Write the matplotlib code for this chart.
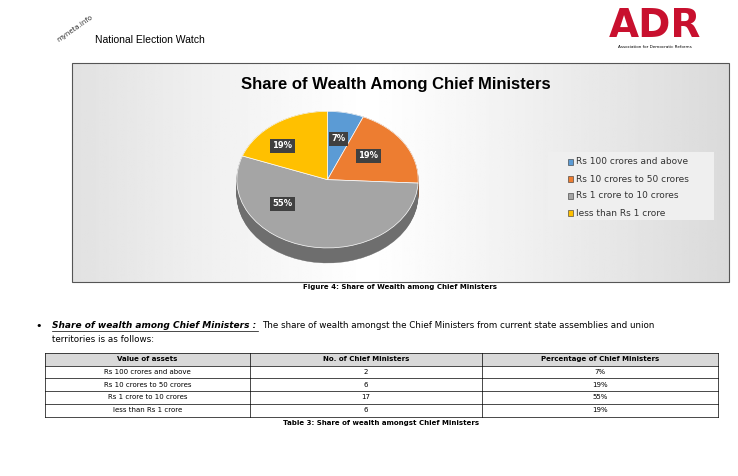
import matplotlib.pyplot as plt
import numpy as np
from matplotlib.patches import Rectangle, Wedge

categories = ["Rs 100 crores and above", "Rs 10 crores to 50 crores",
              "Rs 1 crore to 10 crores", "less than Rs 1 crore"]
counts = [2, 6, 17, 6]
percent_labels = ["7%", "19%", "55%", "19%"]
colors = ["#5B9BD5", "#ED7D31", "#A5A5A5", "#FFC000"]
dark = ["#3F6E99", "#A9561F", "#6E6E6E", "#B38700"]

fig = plt.figure(figsize=(7.38, 4.76), dpi=100)
bg = fig.add_axes([0, 0, 1, 1])
bg.set_xlim(0, 738)
bg.set_ylim(476, 0)
bg.axis("off")

# header logos (text approximations)
bg.text(95, 40, "National Election Watch", fontsize=7.5, family="Liberation Sans", va="center")
bg.text(56, 28, "myneta.info", fontsize=5, rotation=35, color="#333", va="center")
bg.text(655, 26, "ADR", fontsize=28, color="#C8102E", fontweight="bold", ha="center", va="center")
bg.text(655, 47, "Association for Democratic Reforms", fontsize=3, ha="center", va="center")

# chart box with gradient
grad = np.linspace(0, 1, 256)
g = 1 - 0.28 * np.abs(grad - 0.45) ** 1.1
bg.imshow(np.tile(g, (2, 1)), cmap="gray", vmin=0, vmax=1, extent=(72, 729, 282, 63), aspect="auto")
bg.add_patch(Rectangle((72, 63), 657, 219, fill=False, edgecolor="#555", lw=0.8))
bg.text(396, 84, "Share of Wealth Among Chief Ministers", fontsize=12, fontweight="bold",
        ha="center", va="center", family="Liberation Sans")
bg.text(400, 287, "Figure 4: Share of Wealth among Chief Ministers", fontsize=5, fontweight="bold",
        ha="center", va="center")

# pseudo-3D pie
pax = fig.add_axes([235 / 738, 1 - 265 / 476, 185 / 738, 155 / 476])
pax.set_xlim(-1.02, 1.02)
pax.set_ylim(-1.25, 1.02)
pax.axis("off")
fracs = np.array(counts) / sum(counts)
start = 90
angles = []
for f in fracs:
    angles.append((start - f * 360, start))
    start -= f * 360
for off in np.linspace(-0.22, 0, 20):
    for (a0, a1), c in zip(angles, dark):
        pax.add_patch(Wedge((0, off), 1, a0, a1, facecolor=c, edgecolor=c, lw=0.3))
for (a0, a1), c in zip(angles, colors):
    pax.add_patch(Wedge((0, 0), 1, a0, a1, facecolor=c, edgecolor="white", lw=0.5))
label_pos = [(0.12, 0.6), (0.45, 0.35), (-0.5, -0.35), (-0.5, 0.5)]
for (x, y), t in zip(label_pos, percent_labels):
    pax.text(x, y, t, fontsize=6, fontweight="bold", color="white", ha="center", va="center",
             bbox=dict(boxstyle="square,pad=0.3", facecolor="#404040", edgecolor="none"))

# legend
bg.add_patch(Rectangle((548, 152), 166, 68, facecolor="#EFEFEF", edgecolor="none"))
for i, (cat, c) in enumerate(zip(categories, colors)):
    y = 162 + i * 17
    bg.add_patch(Rectangle((568, y - 3), 5, 6, facecolor=c, edgecolor="#333", lw=0.4))
    bg.text(576, y, cat, fontsize=6.5, va="center", color="#333")

# paragraph
bg.text(35, 326, "\u2022", fontsize=8, va="center")
bg.text(52, 326, "Share of wealth among Chief Ministers :", fontsize=6.5, fontweight="bold",
        style="italic", va="center")
bg.plot([52, 258], [331, 331], color="black", lw=0.5)
bg.text(262, 326, "The share of wealth amongst the Chief Ministers from current state assemblies and union",
        fontsize=6.3, va="center")
bg.text(52, 340, "territories is as follows:", fontsize=6.3, va="center")

# table
cols_x = [45, 250, 482, 718]
headers = ["Value of assets", "No. of Chief Ministers", "Percentage of Chief Ministers"]
row_h = 12.7
top = 353
bg.add_patch(Rectangle((45, top), 673, row_h, facecolor="#D9D9D9", edgecolor="none"))
rows = [[cat, str(n), p] for cat, n, p in zip(categories, counts, percent_labels)]
for r in range(6):
    bg.plot([45, 718], [top + r * row_h] * 2, color="black", lw=0.5)
for x in cols_x:
    bg.plot([x, x], [top, top + 5 * row_h], color="black", lw=0.5)
for j, h in enumerate(headers):
    bg.text((cols_x[j] + cols_x[j + 1]) / 2, top + row_h / 2, h, fontsize=5, fontweight="bold",
            ha="center", va="center")
for i, row in enumerate(rows):
    for j, v in enumerate(row):
        bg.text((cols_x[j] + cols_x[j + 1]) / 2, top + (i + 1.5) * row_h, v, fontsize=5,
                ha="center", va="center")
bg.text(381, top + 5 * row_h + 7, "Table 3: Share of wealth amongst Chief Ministers", fontsize=5,
        fontweight="bold", ha="center", va="center")

fig.savefig("out.png", dpi=100)
